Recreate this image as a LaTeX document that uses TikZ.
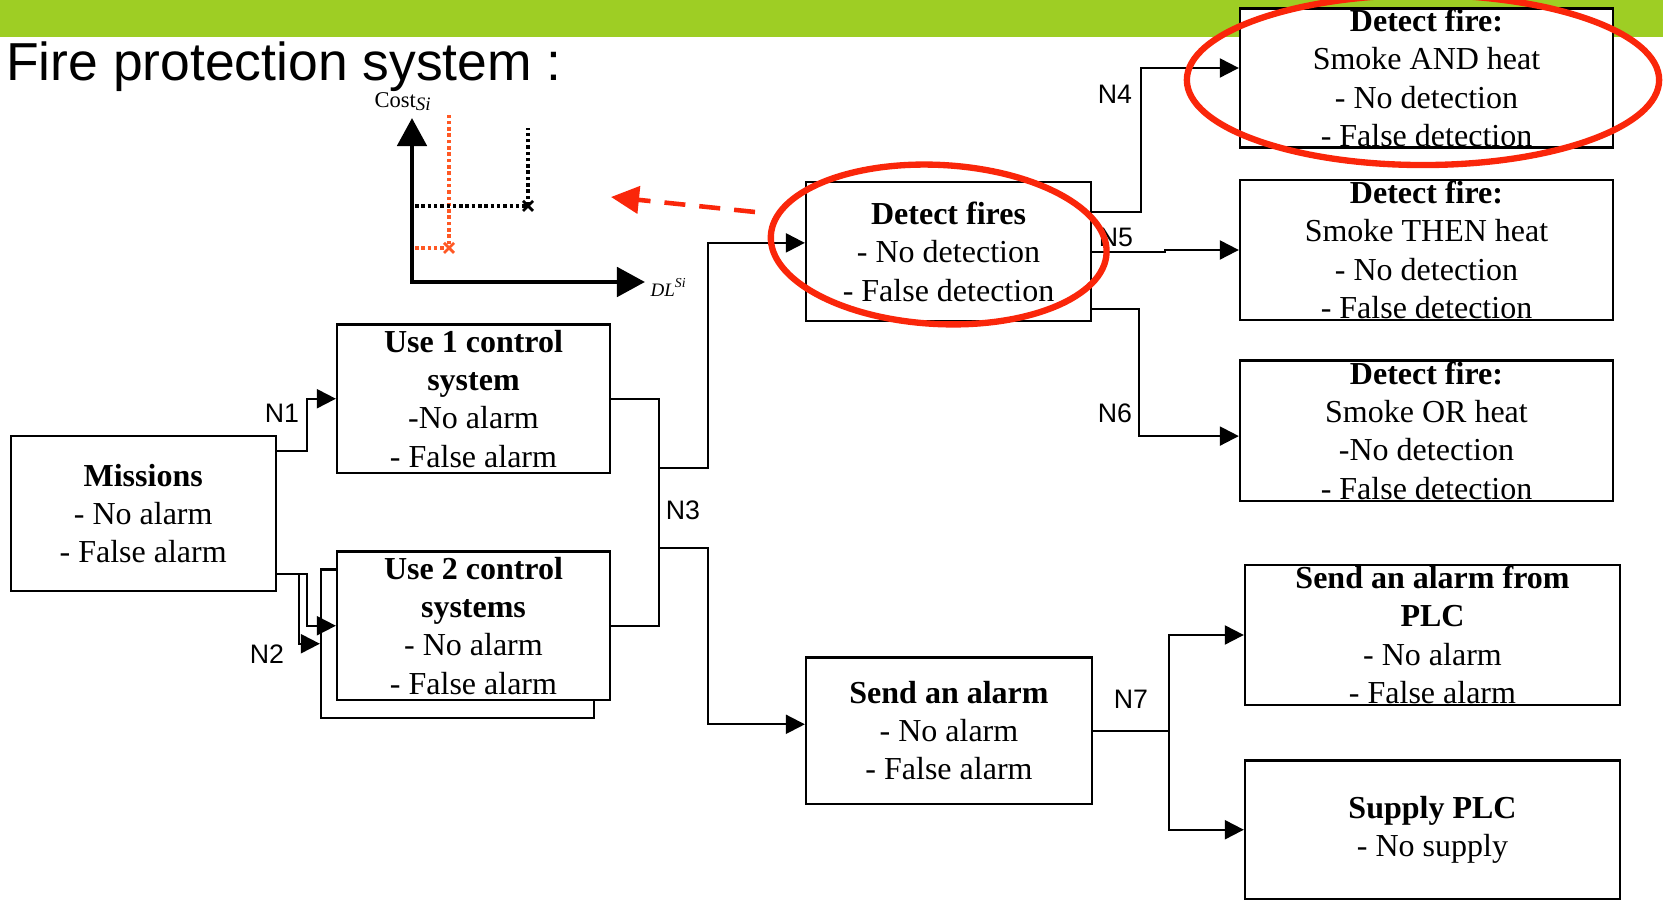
\documentclass[tikz,border=0pt]{standalone}
\usepackage{fontspec}
\setmainfont{Liberation Serif}
\newfontfamily\headfont{Liberation Sans}
\usetikzlibrary{arrows.meta,calc,shapes.geometric}

\definecolor{bargreen}{RGB}{158,206,36}
\definecolor{hlred}{RGB}{250,38,10}
\definecolor{plotorange}{RGB}{255,88,36}

\begin{document}
\begin{tikzpicture}[x=0.01cm,y=-0.01cm,
  box/.style={draw, line width=0.6pt, fill=white, inner sep=0pt, align=center,
              font=\fontsize{9.1}{10.87}\selectfont},
  wire/.style={line width=0.6pt},
  conn/.style={wire, -{Triangle[length=0.19cm,width=0.19cm]}},
  netlabel/.style={font=\headfont\fontsize{7.6}{9}\selectfont, inner sep=0pt},
  highlight/.style={draw=hlred, line width=1.8pt, ellipse, inner sep=0pt},
  dotline/.style={line width=1.0pt, dash pattern=on 0.035cm off 0.028cm},
  axis/.style={line width=1.4pt,
               {Triangle[length=0.28cm,width=0.29cm]}-{Triangle[length=0.28cm,width=0.29cm]}},
]
\useasboundingbox (0,0) rectangle (1663,901);

% header band and title
\fill[bargreen] (0,0) rectangle (1663,37);
\node[anchor=base west, inner sep=0pt, font=\headfont\fontsize{15.2}{18}\selectfont]
  (title) at (5.5,80.6) {Fire protection system :};

% cost / delay plot
\coordinate (orig) at (412,282);
\coordinate (ytip) at (412,118);
\coordinate (xtip) at (645,282);
\draw[axis] (ytip) -- (orig) -- (xtip);
\node[anchor=base west, inner sep=0pt, font=\fontsize{6.4}{7}\selectfont] (ylab) at (374,108)
  {Cost\raisebox{-0.7pt}{\fontsize{5.4}{6}\selectfont\itshape Si}};
\node[anchor=base west, inner sep=0pt, font=\fontsize{5.4}{6}\selectfont\itshape] (xlab) at (650,297)
  {DL\raisebox{2.6pt}{\fontsize{3.9}{4}\selectfont Si}};
\coordinate (ptA) at (449,248);
\coordinate (ptB) at (528,206);
\draw[dotline, plotorange] (415,248) -- (ptA) -- (449,115);
\draw[plotorange, line width=0.8pt] ($(ptA)+(-5,-5)$) -- ($(ptA)+(5,5)$) ($(ptA)+(-5,5)$) -- ($(ptA)+(5,-5)$);
\draw[dotline] (415,206) -- (ptB) -- (528,128);
\draw[line width=0.8pt] ($(ptB)+(-5,-5)$) -- ($(ptB)+(5,5)$) ($(ptB)+(-5,5)$) -- ($(ptB)+(5,-5)$);

% function boxes
\node[box, minimum width=2.65cm, minimum height=1.55cm] (mis) at (143.2,513.5)
  {\textbf{Missions}\\- No alarm\\- False alarm};
\node[box, minimum width=2.73cm, minimum height=1.485cm] (use1) at (473.5,398.75)
  {\textbf{Use 1 control}\\\textbf{system}\\-No alarm\\- False alarm};
\node[box, minimum width=2.73cm, minimum height=1.485cm] (use2b) at (457.5,643.75) {};
\node[box, minimum width=2.73cm, minimum height=1.485cm] (use2) at (473.5,625.75)
  {\textbf{Use 2 control}\\\textbf{systems}\\- No alarm\\- False alarm};
\node[box, minimum width=2.85cm, minimum height=1.39cm] (det) at (948.5,251.9)
  {\textbf{Detect fires}\\- No detection\\- False detection};
\node[box, minimum width=2.86cm, minimum height=1.464cm] (alarm) at (949,730.8)
  {\textbf{Send an alarm}\\- No alarm\\- False alarm};
\node[box, minimum width=3.73cm, minimum height=1.39cm] (and) at (1426.5,78)
  {\textbf{Detect fire:}\\Smoke AND heat\\- No detection\\- False detection};
\node[box, minimum width=3.73cm, minimum height=1.40cm] (then) at (1426.5,250)
  {\textbf{Detect fire:}\\Smoke THEN heat\\- No detection\\- False detection};
\node[box, minimum width=3.73cm, minimum height=1.40cm] (or) at (1426.5,430.6)
  {\textbf{Detect fire:}\\Smoke OR heat\\-No detection\\- False detection};
\node[box, minimum width=3.75cm, minimum height=1.40cm] (plc) at (1432.5,635)
  {\textbf{Send an alarm from}\\\textbf{PLC}\\- No alarm\\- False alarm};
\node[box, minimum width=3.75cm, minimum height=1.385cm] (sup) at (1432.5,829.75)
  {\textbf{Supply PLC}\\- No supply};

% links between functions
\draw[conn] ($(mis.east)+(0,-62.5)$) -- ++(30.5,0) |- (use1.west);
\draw[conn] ($(mis.east)+(0,60.5)$) -- ++(30.5,0) |- (use2.west);
\draw[conn] ($(mis.east)+(0,60.5)$) -- ++(22.5,0) |- (use2b.west);
\draw[wire] (use1.east) -- ++(47.5,0) |- (use2.east);
\draw[conn] ($(use1.east)+(47.5,69)$) -- ++(49,0) |- ($(det.west)+(0,-9)$);
\draw[conn] ($(use1.east)+(47.5,149.5)$) -- ++(49,0) |- ($(alarm.west)+(0,-6.5)$);
\draw[conn] ($(det.east)+(0,-40)$) -- ++(49,0) |- ($(and.west)+(0,-10)$);
\draw[conn] (det.east) -- ++(73,0) |- (then.west);
\draw[conn] ($(det.east)+(0,57)$) -- ++(47,0) |- ($(or.west)+(0,5.5)$);
\draw[wire] (alarm.east) -- ++(75.7,0);
\draw[conn] ($(alarm.east)+(75.7,0)$) |- (plc.west);
\draw[conn] ($(alarm.east)+(75.7,0)$) |- (sup.west);

% node labels
\node[netlabel] (n1) at (282,413) {N1};
\node[netlabel] (n2) at (267,654) {N2};
\node[netlabel] (n3) at (683,510) {N3};
\node[netlabel] (n4) at (1115,94) {N4};
\node[netlabel] (n5) at (1116,237) {N5};
\node[netlabel] (n6) at (1115,413.6) {N6};
\node[netlabel] (n7) at (1131,699) {N7};

% highlights
\node[highlight, minimum width=3.36cm, minimum height=1.59cm, rotate=-3] (hl1) at (938.7,244.5) {};
\node[highlight, minimum width=4.72cm, minimum height=1.70cm] (hl2) at (1423,80) {};
\coordinate (arrtail) at (755,212);
\coordinate (arrhead) at (611,197);
\draw[hlred, line width=1.3pt, dash pattern=on 0.21cm off 0.14cm,
      -{Triangle[length=0.28cm,width=0.27cm]}] (arrtail) -- (arrhead);
\end{tikzpicture}
\end{document}
